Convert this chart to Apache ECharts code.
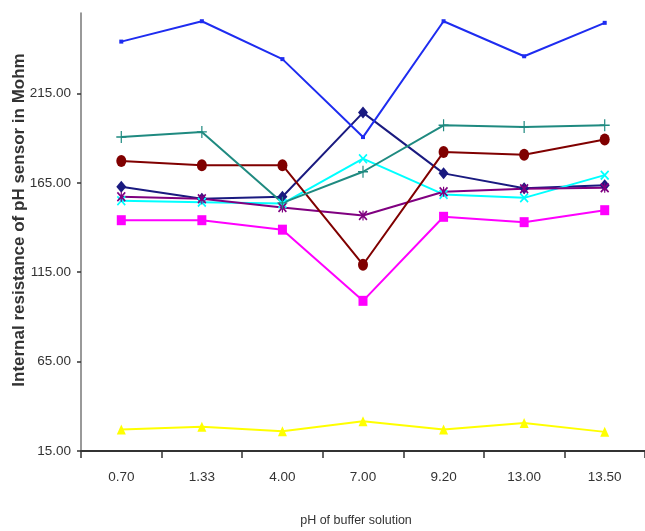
<!DOCTYPE html>
<html>
<head>
<meta charset="utf-8">
<script src="https://cdn.jsdelivr.net/npm/echarts@6/dist/echarts.min.js"></script>
<style>html,body{margin:0;padding:0;background:#fff}#c{width:645px;height:531px}</style>
</head>
<body>
<div id="c"></div>
<script>
const categories = ['0.70', '1.33', '4.00', '7.00', '9.20', '13.00', '13.50'];
const yTicks = [15, 65, 115, 165, 215];

const navyDiamond   = [162.8, 156.1, 157.2, 204.3, 170.3, 162.0, 163.7];
const magentaSquare = [144.1, 144.1, 138.8, 99.0, 146.0, 143.0, 149.7];
const yellowTri     = [27.0, 28.5, 26.1, 31.7, 27.0, 30.7, 25.7];
const cyanX         = [155.0, 154.2, 153.4, 178.5, 158.5, 156.6, 169.3];
const purpleStar    = [157.2, 156.1, 151.2, 146.7, 160.0, 161.7, 162.2];
const brownCircle   = [177.2, 174.9, 174.9, 119.2, 182.2, 180.7, 189.2];
const tealPlus      = [190.6, 193.5, 153.8, 171.2, 197.2, 196.3, 197.2];
const blueDash      = [244.0, 255.4, 234.2, 190.6, 255.4, 235.8, 254.5];

const X_PATH = 'path://M0,1.3L1.3,0L5,3.7L8.7,0L10,1.3L6.3,5L10,8.7L8.7,10L5,6.3L1.3,10L0,8.7L3.7,5Z';
const PLUS_PATH = 'path://M4.4,0H5.6V4.4H10V5.6H5.6V10H4.4V5.6H0V4.4H4.4Z';
const STAR_PATH = 'path://M0,1.3L1.3,0L5,3.7L8.7,0L10,1.3L6.3,5L10,8.7L8.7,10L5,6.3L1.3,10L0,8.7L3.7,5Z M4.35,0H5.65V10H4.35Z';

const LABEL_FONT = '"Liberation Sans Narrow", "Arial Narrow", "Liberation Sans", Arial, sans-serif';

function mk(name, data, color, symbol, size) {
  return {
    name, type: 'line', data,
    symbol, symbolSize: size,
    showSymbol: true,
    lineStyle: { color, width: 2 },
    itemStyle: { color },
    emphasis: { disabled: true },
    z: 2
  };
}

const chart = echarts.init(document.getElementById('c'), null, { renderer: 'canvas' });
chart.setOption({
  animation: false,
  backgroundColor: '#ffffff',
  grid: { left: 81, top: 13, right: -10, bottom: 80 },
  xAxis: {
    type: 'category',
    data: categories,
    boundaryGap: true,
    axisLine: { lineStyle: { color: '#333', width: 2 } },
    axisTick: { show: true, alignWithLabel: false, length: 7, lineStyle: { color: '#333', width: 1.5 } },
    axisLabel: { color: '#333', fontFamily: LABEL_FONT, fontSize: 13.5, margin: 19 },
    splitLine: { show: false }
  },
  yAxis: {
    type: 'value',
    min: 15, max: 260, interval: 50,
    axisLine: { show: true, lineStyle: { color: '#777', width: 1.5 } },
    axisTick: { show: true, inside: false, length: 4, customValues: yTicks, lineStyle: { color: '#333', width: 1.5 } },
    axisLabel: {
      customValues: yTicks,
      color: '#333', fontFamily: LABEL_FONT, fontSize: 13.5, margin: 10,
      formatter: v => Number(v).toFixed(2)
    },
    splitLine: { show: false }
  },
  graphic: [
    {
      type: 'text',
      x: 19, y: 220,
      rotation: Math.PI / 2,
      style: {
        text: 'Internal resistance of pH sensor in Mohm',
        font: 'bold 17px "Liberation Sans", Arial, sans-serif',
        fill: '#333', align: 'center', verticalAlign: 'middle'
      }
    },
    {
      type: 'text',
      x: 356, y: 521,
      style: {
        text: 'pH of buffer solution',
        font: '12.5px ' + LABEL_FONT,
        fill: '#333', align: 'center', verticalAlign: 'middle'
      }
    }
  ],
  series: [
    mk('S1', navyDiamond, '#1a1a80', 'diamond', [10, 12]),
    mk('S2', magentaSquare, '#ff00ff', 'rect', [9, 10]),
    mk('S3', yellowTri, '#ffff00', 'triangle', [9, 10]),
    mk('S4', cyanX, '#00ffff', X_PATH, [9, 10]),
    mk('S5', purpleStar, '#800080', STAR_PATH, [9, 10]),
    mk('S6', brownCircle, '#800000', 'circle', [10, 12]),
    mk('S7', tealPlus, '#1f8a80', PLUS_PATH, [10, 12]),
    mk('S8', blueDash, '#1e2cf0', 'rect', [4, 4])
  ]
});
</script>
</body>
</html>
